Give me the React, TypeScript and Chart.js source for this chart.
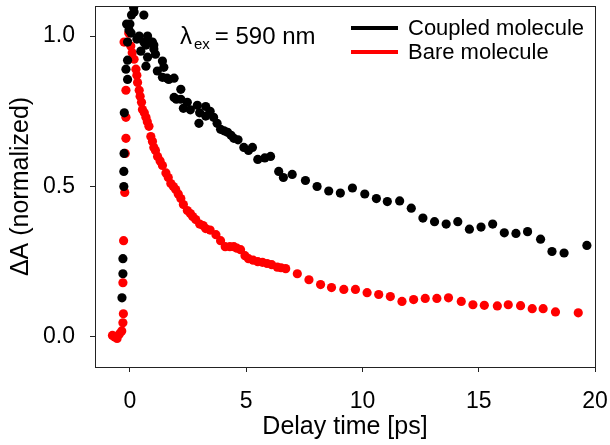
import React, { useEffect, useRef } from "react";
import { Chart, registerables } from "chart.js";

Chart.register(...registerables);

const FONT = '"Liberation Sans", Arial, sans-serif';

const seriesLabels = ["Coupled molecule", "Bare molecule"];
const seriesColors = ["#000000", "#ff0000"];

const coupledX = [
  -0.34, -0.3, -0.3, -0.26, -0.26, -0.25, -0.24, -0.17, -0.1, -0.1, -0.1, -0.14, -0.04, 0.0, 0.07, 0.16,
  0.18, 0.05, 0.3, 0.4, 0.47, 0.6, 0.6, 0.69, 0.69, 0.76, 0.76, 0.9, 0.97, 1.03, 1.03, 1.1, 1.18, 1.4,
  1.46, 1.4, 1.6, 1.67, 1.9, 1.9, 2.0, 2.19, 2.19, 2.3, 2.47, 2.6, 2.9, 2.97, 3.0, 3.26, 3.26, 3.45,
  3.6, 3.75, 3.9, 4.05, 4.2, 4.35, 4.47, 4.65, 4.9, 5.1, 5.27, 5.5, 5.8, 6.05, 6.4, 6.6, 6.98, 7.55,
  8.05, 8.55, 9.05, 9.57, 10.1, 10.6, 11.07, 11.6, 12.1, 12.6, 13.1, 13.6, 14.1, 14.6, 15.1, 15.6,
  16.1, 16.6, 17.1, 17.66, 18.15, 18.67, 19.65,
];
const coupledY = [
  0.13, 0.21, 0.26, 0.5, 0.55, 0.61, 0.745, 0.89, 0.92, 0.856, 0.98, 1.04, 1.02, 1.04, 1.07, 1.095,
  1.08, 1.01, 0.99, 1.0, 0.95, 1.07, 0.98, 0.97, 0.9, 1.0, 0.93, 0.98, 0.98, 0.957, 0.97, 0.94, 0.884, 0.917,
  0.896, 0.863, 0.86, 0.856, 0.86, 0.796, 0.79, 0.823, 0.79, 0.76, 0.78, 0.755, 0.77, 0.71, 0.745, 0.766, 0.734, 0.75,
  0.73, 0.71, 0.69, 0.685, 0.68, 0.67, 0.66, 0.655, 0.63, 0.62, 0.63, 0.59, 0.595, 0.6, 0.55, 0.53, 0.54, 0.52,
  0.5, 0.485, 0.478, 0.495, 0.475, 0.46, 0.45, 0.452, 0.428, 0.395, 0.383, 0.375, 0.383, 0.358, 0.365, 0.375,
  0.346, 0.344, 0.35, 0.325, 0.284, 0.279, 0.304,
];

const bareX = [
  -0.75, -0.65, -0.55, -0.45, -0.35, -0.3, -0.28, -0.3, -0.27, -0.22, -0.2, -0.17, -0.17, -0.17, -0.25, -0.1,
  -0.05, 0.04, 0.1, 0.18, 0.26, 0.3, 0.33, 0.4, 0.44, 0.5, 0.54, 0.62, 0.69, 0.75, 0.82, 0.9, 0.97, 1.03,
  1.1, 1.19, 1.3, 1.4, 1.55, 1.65, 1.76, 1.87, 1.97, 2.08, 2.19, 2.3, 2.47, 2.6, 2.7, 2.83, 3.0, 3.15,
  3.26, 3.45, 3.7, 3.9, 4.1, 4.3, 4.47, 4.6, 4.76, 4.95, 5.1, 5.3, 5.5, 5.7, 5.9, 6.1, 6.34, 6.5, 6.7,
  7.2, 7.7, 8.2, 8.67, 9.2, 9.7, 10.2, 10.7, 11.2, 11.7, 12.2, 12.7, 13.2, 13.7, 14.25, 14.75, 15.24,
  15.8, 16.27, 16.8, 17.3, 17.77, 18.3, 19.28,
];
const bareY = [
  0.005, 0.0, -0.005, 0.01, 0.02, 0.047, 0.077, 0.18, 0.32, 0.48, 0.61, 0.66, 0.73, 0.82, 0.98, 0.98,
  1.01, 0.967, 0.945, 0.923, 0.89, 0.87, 0.846, 0.82, 0.8, 0.78, 0.756, 0.745, 0.73, 0.715, 0.7, 0.666, 0.65, 0.63,
  0.62, 0.6, 0.585, 0.57, 0.545, 0.53, 0.51, 0.5, 0.49, 0.475, 0.46, 0.44, 0.42, 0.41, 0.4, 0.39, 0.375, 0.37,
  0.36, 0.355, 0.34, 0.32, 0.3, 0.3, 0.3, 0.295, 0.29, 0.27, 0.26, 0.255, 0.25, 0.248, 0.244, 0.24, 0.232, 0.23, 0.227,
  0.21, 0.19, 0.174, 0.164, 0.158, 0.158, 0.147, 0.141, 0.134, 0.118, 0.124, 0.128, 0.128, 0.13, 0.118, 0.107, 0.105,
  0.103, 0.107, 0.104, 0.094, 0.094, 0.083, 0.08,
];

const xTicks = [0, 5, 10, 15, 20];
const yTicks = [0, 0.5, 1.0];
const yTickLabels = ["0.0", "0.5", "1.0"];

const toPoints = (xs: number[], ys: number[]) => xs.map((x, i) => ({ x, y: ys[i] }));

const overlayPlugin = {
  id: "overlay",
  afterDraw(chart: any) {
    const { ctx, chartArea } = chart;
    ctx.save();
    ctx.strokeStyle = "#222";
    ctx.lineWidth = 1;
    ctx.strokeRect(chartArea.left + 0.5, chartArea.top + 0.5, chartArea.right - chartArea.left, chartArea.bottom - chartArea.top);

    // legend
    const legendRows = [28, 52];
    seriesLabels.forEach((label, i) => {
      const y = legendRows[i];
      ctx.fillStyle = seriesColors[i];
      ctx.fillRect(351, y - 2, 47, 4);
      ctx.fillStyle = "#000";
      ctx.font = `22px ${FONT}`;
      ctx.textBaseline = "middle";
      ctx.textAlign = "left";
      ctx.fillText(label, 408, y + 1);
    });

    // lambda annotation
    ctx.fillStyle = "#000";
    ctx.textBaseline = "alphabetic";
    ctx.font = `24px ${FONT}`;
    const x0 = 180;
    ctx.fillText("λ", x0, 44);
    const x1 = x0 + ctx.measureText("λ").width + 2;
    ctx.font = `15px ${FONT}`;
    ctx.fillText("ex", x1, 49);
    const x2 = x1 + ctx.measureText("ex").width + 5;
    ctx.font = `24px ${FONT}`;
    ctx.fillText("= 590 nm", x2, 44);
    ctx.restore();
  },
};

export default function App() {
  const ref = useRef<HTMLCanvasElement | null>(null);
  useEffect(() => {
    if (!ref.current) return;
    const chart = new Chart(ref.current, {
      type: "scatter",
      data: {
        datasets: [
          {
            label: seriesLabels[0],
            data: toPoints(coupledX, coupledY),
            backgroundColor: seriesColors[0],
            borderWidth: 0,
            pointRadius: 4.6,
          },
          {
            label: seriesLabels[1],
            data: toPoints(bareX, bareY),
            backgroundColor: seriesColors[1],
            borderWidth: 0,
            pointRadius: 4.6,
          },
        ],
      },
      options: {
        responsive: false,
        animation: false,
        layout: { padding: { top: 6, right: 15, left: 0, bottom: 0 } },
        plugins: { legend: { display: false }, tooltip: { enabled: false } },
        scales: {
          x: {
            type: "linear",
            min: -1.5,
            max: 20,
            afterBuildTicks: (s: any) => {
              s.ticks = xTicks.map((v) => ({ value: v }));
            },
            afterFit: (s: any) => {
              s.height = 78;
              s.paddingLeft = 0;
              s.paddingRight = 0;
            },
            border: { display: false },
            grid: { drawOnChartArea: false, drawTicks: true, tickLength: 5, color: "#222" },
            ticks: {
              color: "#000",
              font: { family: FONT, size: 23 },
              padding: 16,
              maxRotation: 0,
            },
            title: {
              display: true,
              text: "Delay time [ps]",
              color: "#000",
              font: { family: FONT, size: 25 },
              padding: { top: 0, bottom: 3 },
            },
          },
          y: {
            type: "linear",
            min: -0.1,
            max: 1.1,
            afterBuildTicks: (s: any) => {
              s.ticks = yTicks.map((v) => ({ value: v }));
            },
            afterFit: (s: any) => {
              s.width = 95;
              s.paddingTop = 0;
              s.paddingBottom = 0;
            },
            border: { display: false },
            grid: { drawOnChartArea: false, drawTicks: true, tickLength: 5, color: "#222" },
            ticks: {
              color: "#000",
              font: { family: FONT, size: 23 },
              padding: 15,
              callback: (v: any) => {
                const i = yTicks.indexOf(Number(v));
                return i >= 0 ? yTickLabels[i] : "";
              },
            },
            title: {
              display: true,
              text: "ΔA (normalized)",
              color: "#000",
              font: { family: FONT, size: 25 },
              padding: { top: 6, bottom: 0 },
            },
          },
        },
      },
      plugins: [overlayPlugin],
    });
    return () => chart.destroy();
  }, []);
  return (
    <div style={{ position: "absolute", left: 0, top: 0, width: 610, height: 445, background: "#fff" }}>
      <canvas ref={ref} width={610} height={445} style={{ display: "block" }} />
    </div>
  );
}
